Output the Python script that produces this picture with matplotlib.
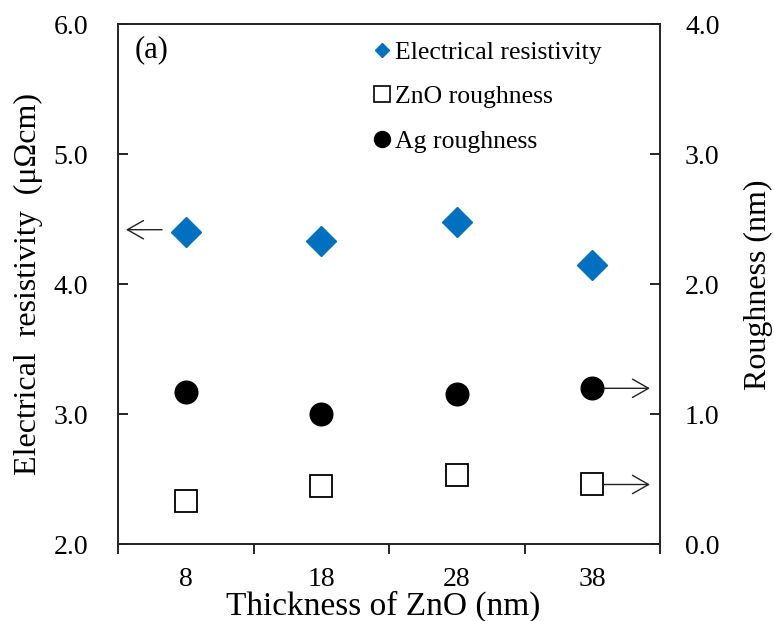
import matplotlib
matplotlib.use("Agg")
import matplotlib.pyplot as plt
from matplotlib.lines import Line2D
from matplotlib.ticker import FixedLocator

plt.rcParams['font.family'] = ['Liberation Serif', 'DejaVu Serif']
plt.rcParams['mathtext.fontset'] = 'stix'

# ---- data ----
categories = ['8', '18', '28', '38']
resistivity = [4.40, 4.33, 4.48, 4.15]      # left axis (µΩcm)
zno_roughness = [0.33, 0.45, 0.53, 0.46]    # right axis (nm)
ag_roughness = [1.17, 1.00, 1.16, 1.20]     # right axis (nm)
left_ticks = [2.0, 3.0, 4.0, 5.0, 6.0]
right_ticks = [0.0, 1.0, 2.0, 3.0, 4.0]

BLUE = '#0070C0'

fig = plt.figure(figsize=(7.74, 6.21), dpi=100)
ax = fig.add_axes([118/774, 1-544.3/621, 542/774, 520/621])
ax2 = ax.twinx()

x = list(range(len(categories)))

ax.plot(x, resistivity, linestyle='none', marker='D', ms=15.3,
        color=BLUE, mec=BLUE, zorder=3)
ax2.plot(x, zno_roughness, linestyle='none', marker='s', ms=15.2,
         mfc='white', mec='black', mew=1.3, zorder=3)
ax2.plot(x, ag_roughness, linestyle='none', marker='o', ms=16.3,
         color='black', zorder=3)

ax.set_xlim(-0.5, len(categories)-0.5)
ax.set_ylim(2.0, 6.0)
ax2.set_ylim(0.0, 4.0)

ax.set_yticks(left_ticks)
ax.set_yticklabels([f'{v:.1f}' for v in left_ticks])
ax2.set_yticks(right_ticks)
ax2.set_yticklabels([f'{v:.1f}' for v in right_ticks])

ax.set_xticks(x)
ax.set_xticklabels(categories)
ax.xaxis.set_minor_locator(FixedLocator([i - 0.5 for i in range(len(categories)+1)]))

ax.tick_params(axis='x', which='major', length=0, pad=16.5, labelsize=20)
ax.tick_params(axis='x', which='minor', direction='out', length=7.0, width=1.2)
ax.tick_params(axis='y', direction='in', length=7.2, width=1.2, pad=21.5, labelsize=20)
ax2.tick_params(axis='y', direction='in', length=7.2, width=1.2, pad=18, labelsize=20)

for a in (ax, ax2):
    for s in a.spines.values():
        s.set_linewidth(1.2)
        s.set_color('#222222')

ax.set_xlabel('Thickness of ZnO (nm)', fontsize=24, va='baseline')
ax.xaxis.set_label_coords(0.49, -0.136)
ax.set_ylabel('Electrical  resistivity  (\u03bc\u03a9cm)', fontsize=23, va='center')
ax.yaxis.set_label_coords(-0.165, 0.5)
ax2.set_ylabel('Roughness (nm)', fontsize=23, va='center', rotation=90)
ax2.yaxis.set_label_coords(1.182, 0.5)

ax.text(0.031, 0.951, '(a)', transform=ax.transAxes, fontsize=22,
        ha='left', va='center')

# arrows indicating axes
arrow_kw = dict(arrowstyle='->,head_length=0.58,head_width=0.33',
                color='#222222', lw=1.0, shrinkA=0, shrinkB=0,
                mutation_scale=20)
ax.annotate('', xy=(-0.441, 4.42), xytext=(-0.175, 4.42), arrowprops=arrow_kw)
ax2.annotate('', xy=(3.426, ag_roughness[-1]), xytext=(3.087, ag_roughness[-1]),
             arrowprops=arrow_kw)
ax2.annotate('', xy=(3.426, zno_roughness[-1]), xytext=(3.087, zno_roughness[-1]),
             arrowprops=arrow_kw)

handles = [
    Line2D([], [], linestyle='none', marker='D', ms=7.5, color=BLUE),
    Line2D([], [], linestyle='none', marker='s', ms=11, mfc='white', mec='black', mew=1.2),
    Line2D([], [], linestyle='none', marker='o', ms=11.5, color='black'),
]
labels = ['Electrical resistivity', 'ZnO roughness', 'Ag roughness']
ax2.legend(handles, labels, loc='upper left', bbox_to_anchor=(0.470, 0.968),
           frameon=False, fontsize=18.5, handlelength=0.7, handletextpad=0.15,
           labelspacing=0.83, borderpad=0, borderaxespad=0)

fig.savefig('out.png', dpi=100)
